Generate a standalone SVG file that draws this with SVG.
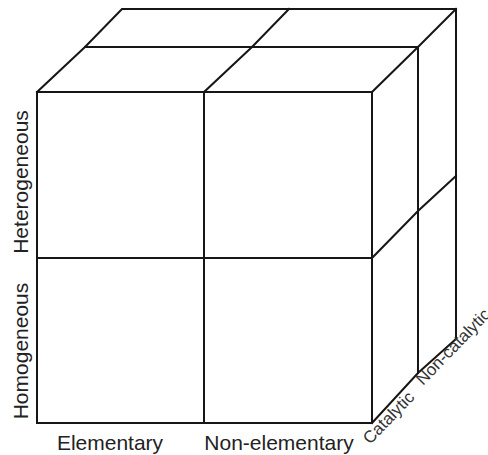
<svg xmlns="http://www.w3.org/2000/svg" width="488" height="455" viewBox="0 0 488 455">
<style>
.e{fill:none;stroke:#161616;stroke-width:2;stroke-linejoin:miter;stroke-linecap:square}
.t{font-family:"Liberation Sans",Arial,sans-serif;font-size:21px;fill:#222}
.d{font-family:"Liberation Sans",Arial,sans-serif;font-size:17px;fill:#333}
</style>
<rect width="488" height="455" fill="#fff"/>
<g id="cube-front">
<rect class="e" x="37" y="92" width="335" height="331"/>
<line class="e" x1="204" y1="92" x2="204" y2="423"/>
<line class="e" x1="37" y1="258" x2="372" y2="258"/>
</g>
<g id="cube-top">
<polyline class="e" points="37,92 85,47 122,9 456,9"/>
<line class="e" x1="85" y1="47" x2="418" y2="47"/>
<polyline class="e" points="204,92 252,47 289,9"/>
<polyline class="e" points="372,92 418,47 456,9"/>
</g>
<g id="cube-side">
<line class="e" x1="418" y1="47" x2="418" y2="373"/>
<line class="e" x1="456" y1="9" x2="456" y2="339"/>
<polyline class="e" points="372,258 418,211 456,176"/>
<polyline class="e" points="372,423 418,373 456,339"/>
</g>
<g id="labels">
<text class="t" x="110" y="450" text-anchor="middle">Elementary</text>
<text class="t" x="279" y="450" text-anchor="middle">Non-elementary</text>
<text class="t" transform="translate(28,182) rotate(-90)" text-anchor="middle">Heterogeneous</text>
<text class="t" transform="translate(28,351) rotate(-90)" text-anchor="middle">Homogeneous</text>
<text class="d" transform="translate(370,445) rotate(-46)">Catalytic</text>
<text class="d" transform="translate(423,386) rotate(-46)">Non-catalytic</text>
</g>
</svg>
